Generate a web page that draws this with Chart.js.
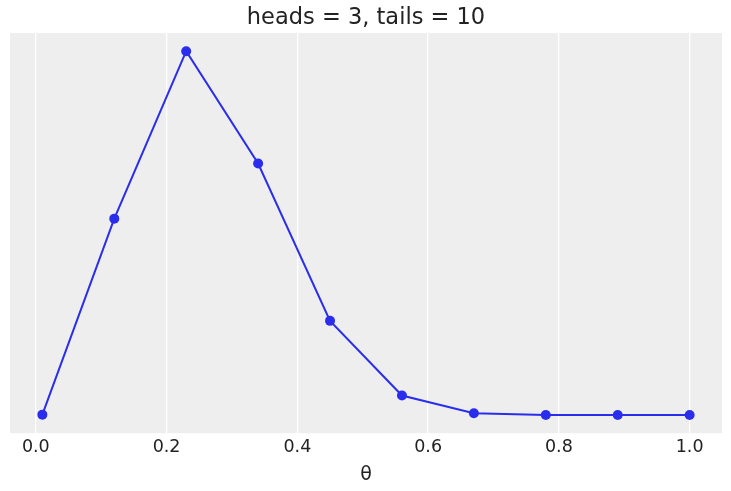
<!DOCTYPE html>
<html>
<head>
<meta charset="utf-8">
<script src="https://cdn.jsdelivr.net/npm/chart.js@4/dist/chart.umd.min.js"></script>
<style>
  html, body { margin: 0; padding: 0; background: #fff; }
  #wrap { width: 731px; height: 491px; }
</style>
</head>
<body>
<div id="wrap"><canvas id="c" width="731" height="491"></canvas></div>
<script>
const THETA = [0.01, 0.12, 0.23, 0.34, 0.45, 0.56, 0.67, 0.78, 0.89, 1.0];
const POSTERIOR = [0.0004, 0.2117, 0.3922, 0.2711, 0.1015, 0.0210, 0.0020, 0.0001, 0.0, 0.0];
const X_TICKS = [0.0, 0.2, 0.4, 0.6, 0.8, 1.0];

const INK = "#222222";
const LINE = "#2a2eec";

// grey panel behind the plot area
const panelBg = {
  id: "panelBg",
  beforeDraw(chart) {
    const { ctx, chartArea: a } = chart;
    ctx.save();
    ctx.fillStyle = "#eeeeee";
    ctx.fillRect(a.left, a.top, a.right - a.left, a.bottom - a.top);
    ctx.restore();
  },
};

new Chart(document.getElementById("c"), {
  type: "line",
  data: {
    datasets: [{
      data: THETA.map((x, i) => ({ x, y: POSTERIOR[i] })),
      borderColor: LINE,
      backgroundColor: LINE,
      borderWidth: 2,
      pointRadius: 5,
      pointBorderWidth: 0,
      tension: 0,
      clip: false,
    }],
  },
  options: {
    responsive: false,
    animation: false,
    layout: { padding: { left: 10, right: 9, top: 0, bottom: 5 } },
    plugins: {
      legend: { display: false },
      tooltip: { enabled: false },
      title: {
        display: true,
        text: "heads = 3, tails = 10",
        color: INK,
        font: { family: "'DejaVu Sans', sans-serif", size: 22.5, weight: "normal" },
        padding: { top: 5, bottom: 1 },
      },
    },
    scales: {
      x: {
        type: "linear",
        min: -0.0395,
        max: 1.0495,
        afterBuildTicks(axis) { axis.ticks = X_TICKS.map(v => ({ value: v })); },
        grid: { color: "#ffffff", lineWidth: 1.3, drawTicks: false },
        border: { display: false },
        ticks: {
          color: INK,
          padding: 4,
          maxRotation: 0,
          font: { family: "'DejaVu Sans', sans-serif", size: 17.5 },
          callback: v => v.toFixed(1),
        },
        title: {
          display: true,
          text: "θ",
          color: INK,
          font: { family: "'DejaVu Sans', sans-serif", size: 19 },
          padding: { top: 1, bottom: 0 },
        },
      },
      y: {
        display: false,
        min: -0.0196,
        max: 0.4118,
      },
    },
  },
  plugins: [panelBg],
});
</script>
</body>
</html>
